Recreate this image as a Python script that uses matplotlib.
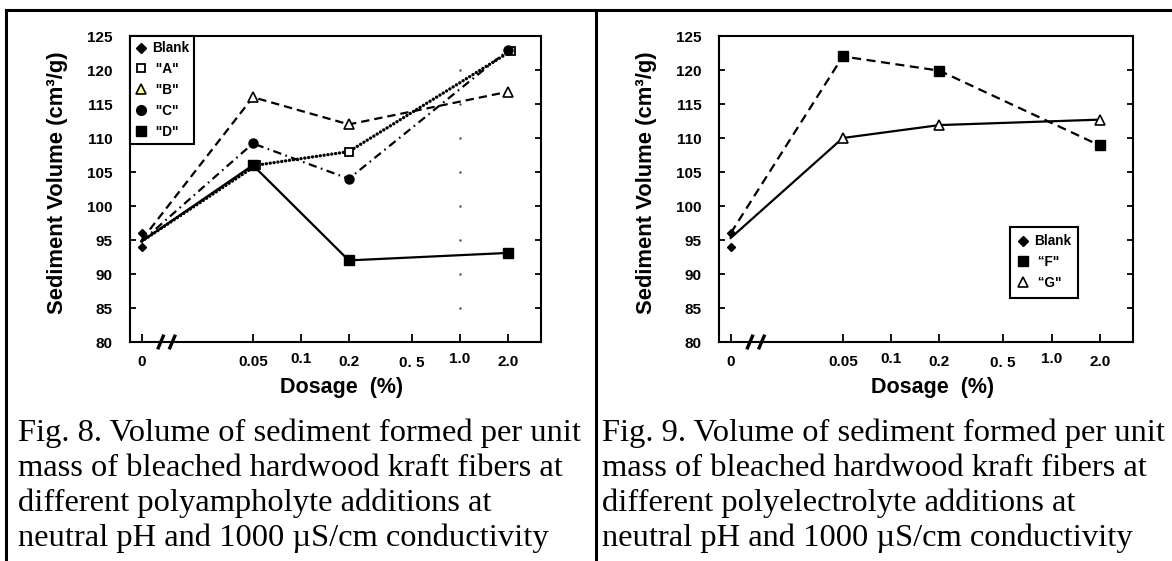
import matplotlib
matplotlib.use('Agg')
import matplotlib.pyplot as plt
from matplotlib.lines import Line2D

plt.rcParams['font.family'] = ['Liberation Sans', 'DejaVu Sans']
plt.rcParams['font.weight'] = 'bold'
plt.rcParams['lines.scale_dashes'] = False

# ---- data (0 % dosage is drawn at 0.01 on the log axis, behind the axis break)
zero_pos = 0.01
tick_pos = [zero_pos, 0.05, 0.1, 0.2, 0.5, 1.0, 2.0]
tick_labels = ['0', '0.05', '0.1', '0.2', '0. 5', '1.0', '2.0']
y_ticks = [80, 85, 90, 95, 100, 105, 110, 115, 120, 125]

blank_x = [zero_pos, zero_pos]
blank_y = [94, 96]

# Fig. 8 - polyampholytes
dose_8 = [zero_pos, 0.05, 0.2, 2.0]
dose_8_A = [zero_pos, 0.0525, 0.2, 2.09]
vol_A = [94.8, 106.0, 108.0, 122.8]
vol_B = [95.0, 116.0, 112.0, 116.8]
vol_C = [94.8, 109.2, 104.0, 122.9]
vol_D = [94.8, 106.0, 92.0, 93.1]

# Fig. 9 - polyelectrolytes
dose_9 = [zero_pos, 0.05, 0.2, 2.0]
vol_F = [96.0, 122.0, 119.9, 108.9]
vol_G = [95.3, 110.0, 111.9, 112.7]

caption_8 = ['Fig. 8. Volume of sediment formed per unit',
             'mass of bleached hardwood kraft fibers at',
             'different polyampholyte additions at',
             'neutral pH and 1000 \u00b5S/cm conductivity']
caption_9 = ['Fig. 9. Volume of sediment formed per unit',
             'mass of bleached hardwood kraft fibers at',
             'different polyelectrolyte additions at',
             'neutral pH and 1000 \u00b5S/cm conductivity']

W, H = 1172, 561
fig = plt.figure(figsize=(W / 100, H / 100), dpi=100)


def px_box(x0, x1, y0, y1):
    return [x0 / W, 1 - y1 / H, (x1 - x0) / W, (y1 - y0) / H]


def setup_axes(ax):
    ax.set_xscale('log')
    ax.set_xlim(10 ** -2.073, 10 ** 0.508)
    ax.set_ylim(80, 125)
    ax.minorticks_off()
    ax.set_xticks(tick_pos)
    ax.set_xticklabels(tick_labels)
    ax.set_yticks(y_ticks)
    for s in ax.spines.values():
        s.set_linewidth(1.5)
    ax.tick_params(axis='x', direction='in', length=6, width=1.3, labelsize=11, pad=9)
    ax.tick_params(axis='y', direction='in', length=4, width=1.3, labelsize=11, pad=12.5,
                   right=True)
    ticks = ax.xaxis.get_major_ticks()
    ticks[0].tick1line.set_markersize(1.5)
    for t, p in zip(ticks, [9, 9, 7.5, 9, 10, 7.5, 9]):
        t.set_pad(p)
    ax.set_xlabel('Dosage  (%)', fontsize=15.5, fontweight='bold')
    ax.xaxis.set_label_coords(0.515, -0.115)
    ax.set_ylabel('Sediment Volume (cm\u00b3/g)', fontsize=15.8, fontweight='bold')
    ax.yaxis.set_label_coords(-0.15, 0.52)
    return ax


def break_marks(ax):
    # the "//" on the x axis between 0 and 0.05
    trans = ax.get_xaxis_transform()
    for xc in (0.0132, 0.0156):
        ax.plot([xc * 0.955, xc * 1.045], [-0.024, 0.024], transform=trans,
                color='black', lw=2.4, clip_on=False, solid_capstyle='butt')


# ---------------- Fig. 8 ----------------
ax1 = fig.add_axes(px_box(130, 541, 36, 342))
setup_axes(ax1)
break_marks(ax1)
ax1.plot([1.0] * (len(y_ticks) - 2), y_ticks[1:-1], ls='none', marker='.',
         ms=1.6, color='0.35')
ax1.plot(dose_8_A, vol_A, color='black', lw=2.4, ls=(0, (0.1, 2.7)),
         dash_capstyle='round', marker='s', ms=6, mfc='white', mec='black', mew=1.3,
         markevery=[1, 2, 3])
ax1.plot(dose_8, vol_B, color='black', lw=1.6, ls=(0, (6, 3.6)),
         marker='^', ms=6.5, mfc='white', mec='black', mew=1.2, markevery=[1, 2, 3])
ax1.plot(dose_8, vol_C, color='black', lw=1.6, ls=(0, (6, 3.2, 1.2, 3.2)),
         marker='o', ms=6.5, mfc='black', mec='black', markevery=[1, 2, 3])
ax1.plot(dose_8, vol_D, color='black', lw=1.6, ls='-',
         marker='s', ms=7, mfc='black', mec='black', markevery=[1, 2, 3])
ax1.plot(blank_x, blank_y, ls='none', marker='D', ms=4.5, color='black')

h8 = [Line2D([], [], ls='none', marker='D', ms=5, color='black'),
      Line2D([], [], ls='none', marker='s', ms=6, mfc='white', mec='black', mew=1.3),
      Line2D([], [], ls='none', marker='^', ms=6.5, mfc='#ffff99', mec='black', mew=1.2),
      Line2D([], [], ls='none', marker='o', ms=7, color='black'),
      Line2D([], [], ls='none', marker='s', ms=7, color='black')]
leg = ax1.legend(h8, ['Blank', ' "A"', ' "B"', ' "C"', ' "D"'], loc='upper left',
                 bbox_to_anchor=(0, 1), borderaxespad=0, fancybox=False,
                 edgecolor='black', framealpha=1, prop={'weight': 'bold', 'size': 9.8},
                 handlelength=0.8, handletextpad=0.4, labelspacing=0.5,
                 borderpad=0.4)
leg.get_frame().set_linewidth(1.5)

# ---------------- Fig. 9 ----------------
ax2 = fig.add_axes(px_box(719, 1133, 36, 342))
setup_axes(ax2)
break_marks(ax2)
ax2.plot(dose_9, vol_F, color='black', lw=1.6, ls=(0, (6.5, 4)),
         marker='s', ms=6.5, mfc='black', mec='black', markevery=[1, 2, 3])
ax2.plot(dose_9, vol_G, color='black', lw=1.6, ls='-',
         marker='^', ms=6.5, mfc='white', mec='black', mew=1.2, markevery=[1, 2, 3])
ax2.plot(blank_x, blank_y, ls='none', marker='D', ms=4.5, color='black')

h9 = [Line2D([], [], ls='none', marker='D', ms=5, color='black'),
      Line2D([], [], ls='none', marker='s', ms=7, color='black'),
      Line2D([], [], ls='none', marker='^', ms=6.5, mfc='white', mec='black', mew=1.2)]
leg2 = ax2.legend(h9, ['Blank', ' \u201cF"', ' \u201cG"'], loc='upper left',
                  bbox_to_anchor=(0.703, 0.376), borderaxespad=0, fancybox=False,
                  edgecolor='black', framealpha=1, prop={'weight': 'bold', 'size': 9.8},
                  handlelength=0.8, handletextpad=0.4, labelspacing=0.5,
                  borderpad=0.55)
leg2.get_frame().set_linewidth(1.5)

# ---------------- table frame and captions ----------------
for xs, ys in [((6, W), (10, 10)), ((6, 6), (10, H)), ((596, 596), (10, H))]:
    fig.add_artist(Line2D([x / W for x in xs], [1 - y / H for y in ys],
                          color='black', lw=2.2, transform=fig.transFigure))

for x0, lines in [(18, caption_8), (602, caption_9)]:
    for i, line in enumerate(lines):
        fig.text(x0 / W, 1 - (433 + 35 * i) / H, line, ha='left', va='center',
                 fontsize=23.4, fontweight='normal',
                 family=['Liberation Serif', 'DejaVu Serif'])

fig.savefig('out.png', dpi=100)
